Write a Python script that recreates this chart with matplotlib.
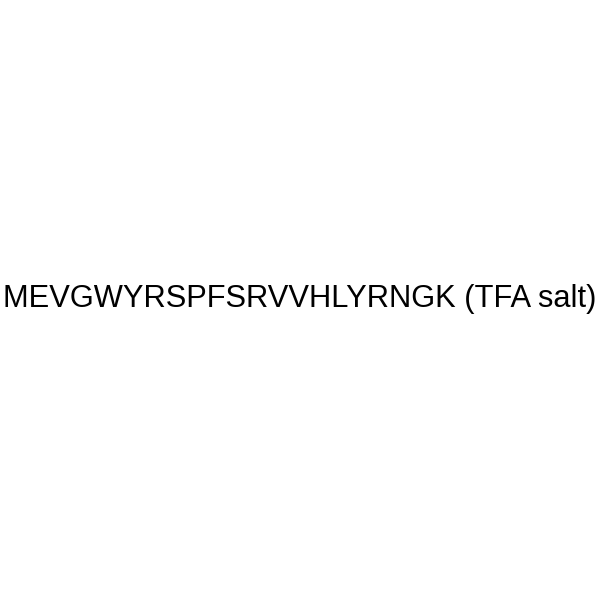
import matplotlib
matplotlib.use("Agg")
import matplotlib.pyplot as plt

label = "MEVGWYRSPFSRVVHLYRNGK (TFA salt)"

fig = plt.figure(figsize=(6, 6), dpi=100)
fig.patch.set_facecolor("white")
fig.text(0.5, 1 - 307.5 / 600, label, ha="center", va="baseline",
         fontsize=22.2, family="Liberation Sans", color="black")
fig.savefig("out.png", dpi=100, facecolor="white")
